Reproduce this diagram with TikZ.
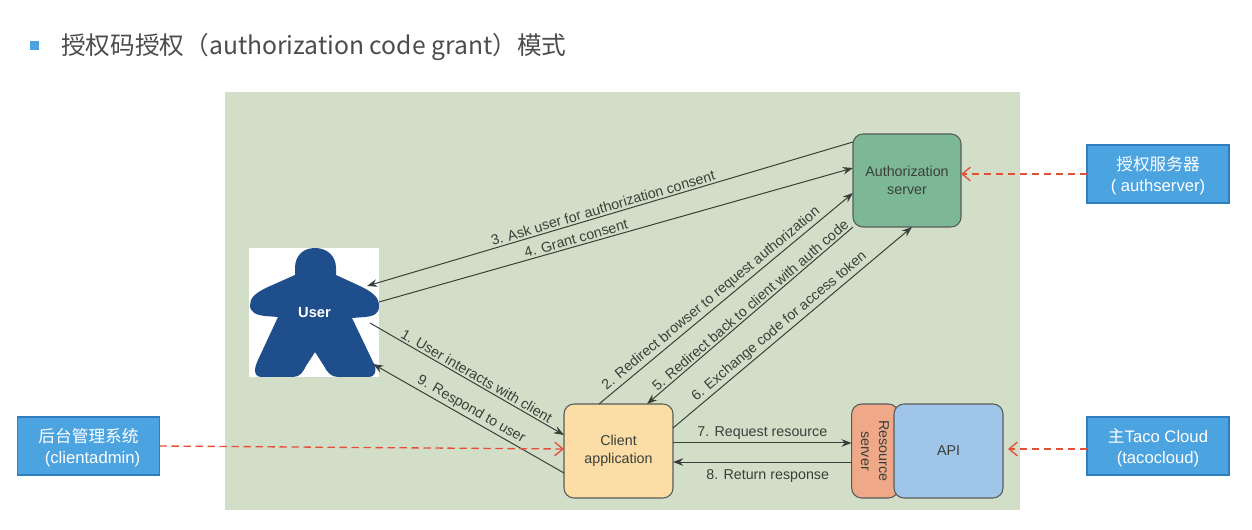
\documentclass[tikz,border=0pt]{standalone}
\usepackage{fontspec}
\setmainfont{Liberation Sans}
\newfontfamily\cjk{Noto Sans CJK SC}
\usepackage{tikz}
\usetikzlibrary{arrows.meta,positioning}
\definecolor{panelc}{HTML}{D3DEC8}
\definecolor{authc}{HTML}{7DB896}
\definecolor{clientc}{HTML}{FBDDA5}
\definecolor{resc}{HTML}{EFA989}
\definecolor{apic}{HTML}{9FC5E8}
\definecolor{tagc}{HTML}{4BA3E0}
\definecolor{tagline}{HTML}{2F7FBF}
\definecolor{meeplec}{HTML}{1F4E8C}
\definecolor{inkc}{HTML}{3A3F3A}
\definecolor{redc}{HTML}{E2503A}

\begin{document}
\begin{tikzpicture}[x=0.75pt,y=-0.75pt,font=\fontsize{10.7}{13.5}\selectfont,
  >={Stealth[length=2.7mm,width=2mm]},node distance=6mm,
  b/.style={draw=inkc!85,line width=.8pt,rounded corners=7.5pt,align=center,text=inkc,inner sep=1pt,outer sep=0pt},
  tag/.style={draw=tagline,line width=.9pt,fill=tagc,text=white,align=center,minimum width=106.5pt,minimum height=43.5pt,inner sep=1pt,outer sep=0pt,font=\fontsize{12.5}{15.75}\selectfont,text depth=0pt},
  f/.style={->,draw=inkc,line width=.75pt},
  l/.style={sloped,above,text=inkc,inner sep=1.5pt},
  r/.style={draw=redc,line width=1pt,dash pattern=on 5.5pt off 3.5pt,-{Straight Barb[length=2.2mm,width=3.6mm,line width=1pt]}}]
  \useasboundingbox (0,0) rectangle (1252,530);
  % title
  \node[fill=tagc,minimum size=6.75pt,inner sep=0pt](bullet) at (34.5,45.5){};
  \node[anchor=west,inner sep=0pt,text=black!70,font=\cjk\fontsize{18.5}{22}\selectfont](title) at (61,47){授权码授权（authorization code grant）模式};
  % panel and user
  \node[fill=panelc,minimum width=596pt,minimum height=313.5pt,inner sep=0pt](panel) at (622.5,301){};
  \node[fill=white,minimum width=97.5pt,minimum height=96.75pt,inner sep=0pt](user) at (314,312.5){};
  \fill[meeplec] (315,248) .. controls (303,248) and (295,256) .. (295,268)
    -- (295,275) -- (268,287) .. controls (255,293) and (250,298) .. (250,305)
    .. controls (250,313) and (257,315) .. (265,316) -- (278,317)
    -- (258,360) .. controls (254,368) and (253,377) .. (262,377)
    -- (293,377) .. controls (300,377) and (303,372) .. (306,366)
    -- (315,352) -- (324,366) .. controls (327,372) and (331,377) .. (338,377)
    -- (368,377) .. controls (376,377) and (377,370) .. (374,364)
    -- (352,318) -- (365,317) .. controls (374,316) and (379,314) .. (379,306)
    .. controls (379,298) and (374,293) .. (362,287)
    -- (336,275) -- (336,268) .. controls (336,256) and (327,248) .. (315,248) -- cycle;
  \node[text=white,font=\fontsize{11}{13}\bfseries\selectfont,inner sep=0pt](userlabel) at (314.5,313){User};
  % servers
  \node[b,fill=authc,minimum width=81pt,minimum height=69.75pt](auth) at (907,180.5){Authorization\\server};
  \node[b,fill=clientc,minimum width=81.75pt,minimum height=70.5pt](client) at (618.5,451){Client\\application};
  \node[b,fill=resc,rotate=-90,minimum width=70.5pt,minimum height=35pt](res) at (875,451){Resource\\server};
  \node[b,fill=apic,minimum width=81.75pt,minimum height=70.5pt](api) at (948.5,451){API};
  % blue tags
  \node[tag](authtag) at (1158,174){{\cjk 授权服务器}\\( authserver)};
  \node[tag,below=160.5pt of authtag](tacotag){{\cjk 主}Taco Cloud\\(tacocloud)};
  \node[tag](admintag) at (88.5,446){{\cjk 后台管理系统}\\\hspace*{6pt}(clientadmin)};
  % user side arrows
  \coordinate (u3) at (367,286);
  \coordinate (u4) at (379,302);
  \coordinate (u1) at (370,323);
  \coordinate (u9) at (373,364);
  \coordinate (apitip) at (1008,449);
  \draw[f](auth.west|-0,142)--(u3) node[l,pos=.51](t3){3. Ask user for authorization consent};
  \draw[f](u4)--(auth.west|-0,168) node[l,pos=.42](t4){4. Grant consent};
  \draw[f](u1)--(client.west|-0,435) node[l,pos=.53](t1){1. User interacts with client};
  \draw[f](client.west|-0,473)--(u9) node[l,pos=.51](t9){9. Respond to user};
  % client and auth
  \draw[f](client.north-|599,0)--(auth.west|-0,193) node[l,pos=.465](t2){2. Redirect browser to request authorization};
  \draw[f](auth.south west)--(client.north-|647,0) node[l,pos=.475](t5){5. Redirect back to client with auth code};
  \draw[f](client.east|-0,428)--(auth.south-|912,0) node[l,pos=.47](t6){6. Exchange code for access token};
  % client and resource
  \draw[f](client.east|-0,443)--(res.south|-0,443) node[above,pos=.5,text=inkc,inner sep=2pt](t7){7. Request resource};
  \draw[f](res.south|-0,462)--(client.east|-0,462) node[below,pos=.47,text=inkc,inner sep=5pt](t8){8. Return response};
  % red dashed
  \draw[r](authtag.west)--(auth.east|-authtag.west);
  \draw[r](tacotag.west|-apitip)--(apitip);
  \draw[r](admintag.east)--(client.west|-0,449);
\end{tikzpicture}
\end{document}
